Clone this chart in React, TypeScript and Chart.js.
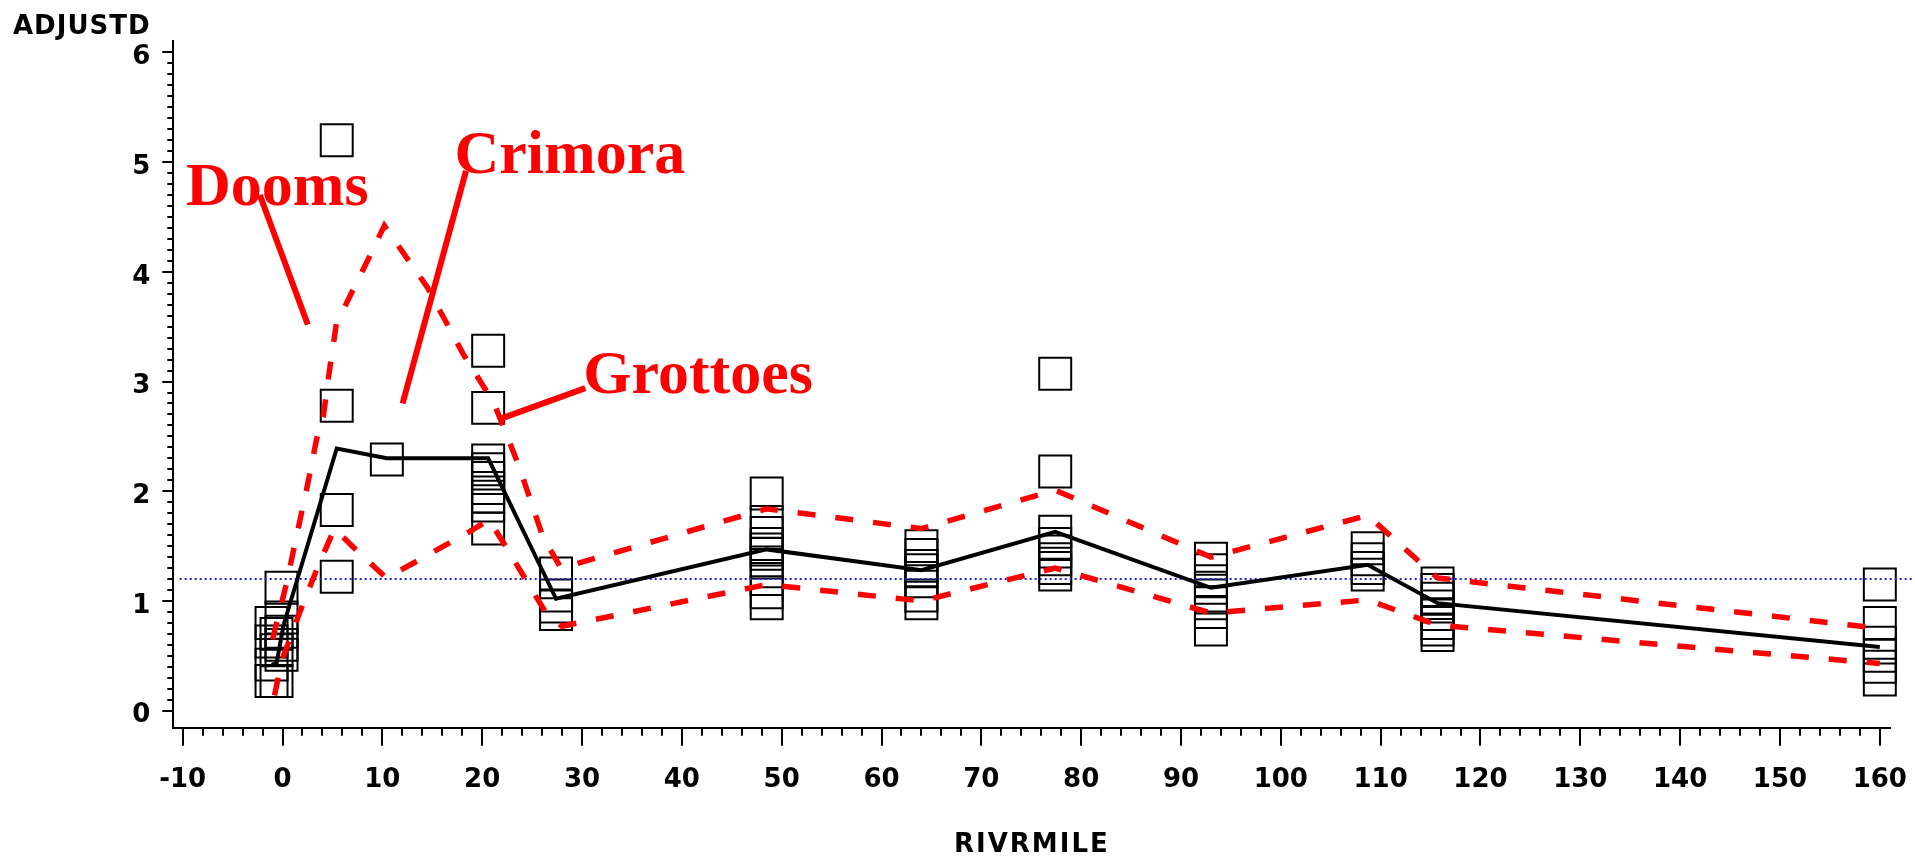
import React, { useEffect, useRef } from "react";
import { Chart, registerables } from "chart.js";

Chart.register(...registerables);

// ---- data ----
const sites = [-1.1, -0.6, -0.1, 5.43, 10.45, 20.6, 27.4, 48.5, 64.0, 77.4, 93.0, 108.7, 115.7, 160.0];
const obsBySite: number[][] = [
  [0.8, 0.63, 0.42, 0.27],
  [0.7, 0.55, 0.27],
  [1.12, 0.85, 0.72, 0.6, 0.51],
  [5.2, 2.78, 1.83, 1.22],
  [2.29],
  [3.28, 2.76, 2.28, 2.2, 2.12, 2.03, 1.95, 1.87, 1.66],
  [1.25, 1.05, 0.95, 0.88],
  [1.98, 1.72, 1.62, 1.52, 1.47, 1.43, 1.35, 1.2, 1.08, 0.98],
  [1.5, 1.42, 1.32, 1.28, 1.18, 1.05, 0.98],
  [3.07, 2.18, 1.63, 1.52, 1.45, 1.38, 1.3, 1.24],
  [1.385, 1.28, 1.18, 1.12, 1.05, 0.98, 0.9, 0.74],
  [1.48, 1.38, 1.3, 1.24],
  [1.16, 1.1, 1.02, 0.95, 0.88, 0.8, 0.74, 0.69],
  [1.15, 0.8, 0.62, 0.5, 0.4, 0.285],
];

const meanMile = [-1.1, -0.6, 0.1, 5.43, 10.45, 20.6, 27.4, 48.5, 64.0, 77.4, 93.0, 108.7, 115.7, 160.0];
const meanValue = [0.42, 0.43, 0.78, 2.39, 2.3, 2.3, 1.02, 1.47, 1.28, 1.63, 1.12, 1.33, 0.98, 0.58];

const upperMile = [-1.0, 0.4, 1.4, 2.4, 3.4, 4.1, 4.7, 5.4, 8.4, 10.2, 14.5, 18.1, 21.2, 23.6, 26.1, 27.9, 48.5, 64.0, 77.4, 93.0, 108.7, 115.7, 160.0];
const upperValue = [0.65, 1.16, 1.59, 2.01, 2.47, 2.69, 3.1, 3.53, 4.08, 4.42, 3.86, 3.25, 2.8, 2.25, 1.58, 1.3, 1.84, 1.66, 2.01, 1.4, 1.78, 1.21, 0.75];

const lowerMile = [-0.8, -0.1, 1.7, 3.4, 5.2, 7.1, 10.4, 13.4, 18.7, 20.7, 22.4, 24.4, 26.4, 28.0, 48.5, 64.0, 77.4, 93.0, 108.7, 115.7, 160.0];
const lowerValue = [0.14, 0.45, 0.89, 1.28, 1.66, 1.49, 1.21, 1.36, 1.63, 1.74, 1.49, 1.19, 0.89, 0.77, 1.15, 1.0, 1.3, 0.89, 1.01, 0.78, 0.43];

const refValue = 1.2;
const refSpan = [-10.3, 163.3];

const xTickStep = 10;
const xMinorStep = 2;
const yTickStep = 1;
const yMinorStep = 0.1;

const xTitle = "RIVRMILE";
const yTitle = "ADJUSTD";

// annotation labels (data coordinates)
const annotations = [
  { text: "Dooms", at: [-9.67, 4.61], line: [[-2.27, 4.7], [2.53, 3.52]] },
  { text: "Crimora", at: [17.23, 4.9], line: [[18.38, 4.92], [12.03, 2.8]] },
  { text: "Grottoes", at: [30.13, 2.895], line: [[30.33, 2.94], [21.8, 2.66]] },
];

const X_MIN = -10.94;
const X_MAX = 161.06;
const Y_MIN = -0.155;
const Y_MAX = 6.1;

const TICK_FONT = { family: "DejaVu Sans", size: 26, weight: "bold" as const };

const decorPlugin = {
  id: "decor",
  afterDraw(chart: any) {
    const ctx: CanvasRenderingContext2D = chart.ctx;
    const xs = chart.scales.x;
    const ys = chart.scales.y;
    const area = chart.chartArea;
    ctx.save();
    ctx.strokeStyle = "#000";
    ctx.lineWidth = 2;
    ctx.beginPath();
    // y ticks
    for (let k = 0; k <= Math.round(6 / yMinorStep); k++) {
      const v = k * yMinorStep;
      const py = Math.round(ys.getPixelForValue(v));
      const len = k % Math.round(yTickStep / yMinorStep) === 0 ? 11 : 6;
      ctx.moveTo(area.left - len, py);
      ctx.lineTo(area.left, py);
    }
    // x ticks
    for (let v = -10; v <= 160; v += xMinorStep) {
      const px = Math.round(xs.getPixelForValue(v));
      const len = v % xTickStep === 0 ? 18 : 8;
      ctx.moveTo(px, area.bottom);
      ctx.lineTo(px, area.bottom + len);
    }
    ctx.stroke();

    // titles
    ctx.fillStyle = "#000";
    ctx.font = "bold 26px 'DejaVu Sans'";
    (ctx as any).letterSpacing = "1px";
    ctx.textBaseline = "middle";
    ctx.textAlign = "left";
    ctx.fillText(yTitle, 13, 27);
    ctx.textAlign = "center";
    (ctx as any).letterSpacing = "2px";
    ctx.fillText(xTitle, (area.left + area.right) / 2, 845);
    (ctx as any).letterSpacing = "0px";

    // annotations
    ctx.strokeStyle = "#ff0000";
    ctx.fillStyle = "#ff0000";
    ctx.lineWidth = 6;
    ctx.font = "bold 62px 'Liberation Serif'";
    ctx.textAlign = "left";
    ctx.textBaseline = "alphabetic";
    for (const a of annotations) {
      ctx.beginPath();
      ctx.moveTo(xs.getPixelForValue(a.line[0][0]), ys.getPixelForValue(a.line[0][1]));
      ctx.lineTo(xs.getPixelForValue(a.line[1][0]), ys.getPixelForValue(a.line[1][1]));
      ctx.stroke();
      ctx.fillText(a.text, xs.getPixelForValue(a.at[0]), ys.getPixelForValue(a.at[1]));
    }
    ctx.restore();
  },
};

export default function App() {
  const ref = useRef<HTMLCanvasElement>(null);
  useEffect(() => {
    const canvas = ref.current!;
    const boxes = sites.flatMap((m, i) => obsBySite[i].map((v) => ({ x: m, y: v })));
    const pts = (xs: number[], ys: number[]) => xs.map((x, i) => ({ x, y: ys[i] }));
    const chart = new Chart(canvas, {
      type: "scatter",
      data: {
        datasets: [
          {
            type: "line",
            data: pts(upperMile, upperValue),
            borderColor: "#ff0000",
            borderWidth: 5.5,
            borderDash: [18, 20],
            pointRadius: 0,
            fill: false,
            order: 0,
          } as any,
          {
            type: "line",
            data: pts(lowerMile, lowerValue),
            borderColor: "#ff0000",
            borderWidth: 5.5,
            borderDash: [18, 20],
            pointRadius: 0,
            fill: false,
            order: 0,
          },
          {
            type: "line",
            data: pts(meanMile, meanValue),
            borderColor: "#000000",
            borderWidth: 4,
            pointRadius: 0,
            fill: false,
            order: 1,
          },
          {
            type: "line",
            data: refSpan.map((x) => ({ x, y: refValue })),
            borderColor: "#2222dd",
            borderWidth: 2,
            borderDash: [2, 3],
            pointRadius: 0,
            fill: false,
            clip: false,
            order: 2,
          } as any,
          {
            type: "scatter",
            data: boxes,
            pointStyle: "rect",
            pointRadius: 22.6,
            pointBorderWidth: 2,
            pointBorderColor: "#000",
            pointBackgroundColor: "rgba(0,0,0,0)",
            clip: false,
            order: 3,
          } as any,
        ],
      },
      options: {
        responsive: false,
        animation: false,
        events: [],
        layout: { padding: { top: 41.4, right: 21.7, left: 0, bottom: 0 } },
        plugins: { legend: { display: false }, tooltip: { enabled: false }, title: { display: false } },
        scales: {
          x: {
            type: "linear",
            min: X_MIN,
            max: X_MAX,
            grid: { display: false, drawTicks: false },
            border: { display: true, color: "#000", width: 2 },
            ticks: {
              stepSize: xTickStep,
              includeBounds: false,
              autoSkip: false,
              maxRotation: 0,
              font: TICK_FONT,
              color: "#000",
              padding: 37,
              callback: (v: any) => String(v),
            },
            afterFit: (s: any) => {
              s.height = 131.3;
              s.paddingLeft = 0;
              s.paddingRight = 0;
            },
          },
          y: {
            type: "linear",
            min: Y_MIN,
            max: Y_MAX,
            grid: { display: false, drawTicks: false },
            border: { display: true, color: "#000", width: 2 },
            ticks: {
              stepSize: yTickStep,
              includeBounds: false,
              font: TICK_FONT,
              color: "#000",
              padding: 23,
              labelOffset: 5,
              callback: (v: any) => String(v),
            },
            afterFit: (s: any) => {
              s.width = 173.3;
              s.paddingTop = 0;
              s.paddingBottom = 0;
            },
          },
        },
      } as any,
      plugins: [decorPlugin],
    });
    return () => chart.destroy();
  }, []);
  return (
    <div style={{ position: "absolute", left: 0, top: 0, width: 1915, height: 859, background: "#fff" }}>
      <canvas ref={ref} width={1915} height={859} style={{ display: "block" }} />
    </div>
  );
}
